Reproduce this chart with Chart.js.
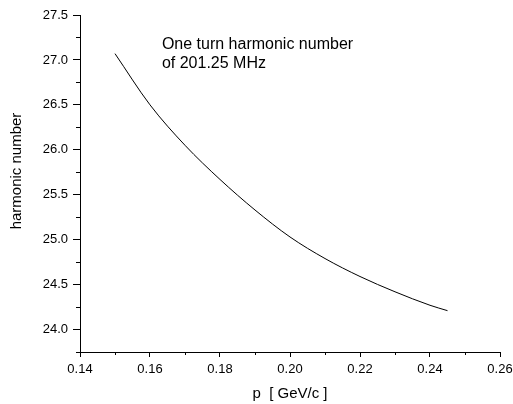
<!DOCTYPE html>
<html>
<head>
<meta charset="utf-8">
<script src="https://cdn.jsdelivr.net/npm/chart.js@4.4.1/dist/chart.umd.min.js"></script>
<style>
  body { margin: 0; background: #fff; }
  canvas { display: block; }
</style>
</head>
<body>
<canvas id="chart" width="513" height="404"></canvas>
<script>
// momentum p [GeV/c] and one-turn harmonic number
const momentum = [0.150, 0.160, 0.170, 0.180, 0.190, 0.200, 0.210, 0.220, 0.230, 0.240, 0.245];
const harmonic = [27.07, 26.50, 26.05, 25.67, 25.33, 25.03, 24.79, 24.59, 24.42, 24.27, 24.21];

const noteLines = ["One turn harmonic number", "of 201.25 MHz"];
const xTitle = "p  [ GeV/c ]";
const yTitle = "harmonic number";

const FONT = "'Liberation Sans', Arial, sans-serif";

function isMajorX(v) { return Math.round(v * 100) % 2 === 0; }
function isMajorY(v) { return Math.round(v * 100) % 50 === 0; }

// short minor ticks, annotation and y title
const extras = {
  id: "extras",
  afterDraw(chart) {
    const ctx = chart.ctx;
    const xs = chart.scales.x, ys = chart.scales.y;
    ctx.save();
    ctx.strokeStyle = "#000";
    ctx.lineWidth = 1;
    ctx.beginPath();
    xs.ticks.forEach(t => {
      if (isMajorX(t.value)) return;
      const px = Math.round(xs.getPixelForValue(t.value)) + 0.5;
      ctx.moveTo(px, xs.top);
      ctx.lineTo(px, xs.top + 3);
    });
    ys.ticks.forEach(t => {
      if (isMajorY(t.value)) return;
      const py = Math.round(ys.getPixelForValue(t.value)) + 0.5;
      ctx.moveTo(ys.right, py);
      ctx.lineTo(ys.right - 4, py);
    });
    ctx.stroke();

    ctx.fillStyle = "#000";
    ctx.font = "16px " + FONT;
    ctx.textBaseline = "middle";
    ctx.textAlign = "left";
    const nx = xs.getPixelForValue(0.1634);
    ctx.fillText(noteLines[0], nx, ys.getPixelForValue(27.167));
    ctx.fillText(noteLines[1], nx, ys.getPixelForValue(26.956));

    ctx.font = "15px " + FONT;
    ctx.textAlign = "center";
    ctx.translate(17, 171);
    ctx.rotate(-Math.PI / 2);
    ctx.fillText(yTitle, 0, 0);
    ctx.restore();
  }
};

new Chart(document.getElementById("chart"), {
  type: "line",
  data: {
    labels: momentum,
    datasets: [{
      data: momentum.map((p, i) => ({ x: p, y: harmonic[i] })),
      borderColor: "#000",
      borderWidth: 1,
      pointRadius: 0,
      fill: false,
      cubicInterpolationMode: "monotone"
    }]
  },
  options: {
    responsive: false,
    animation: false,
    layout: { padding: { top: 15, right: 13, left: 0, bottom: 0 } },
    plugins: { legend: { display: false }, tooltip: { enabled: false } },
    scales: {
      x: {
        type: "linear",
        min: 0.14,
        max: 0.26,
        afterFit(s) { s.height = 52; s.paddingRight = 0; },
        border: { display: true, color: "#000", width: 1 },
        grid: {
          drawOnChartArea: false,
          drawTicks: true,
          tickLength: 5,
          tickColor: c => (c.tick && isMajorX(c.tick.value)) ? "#000" : "rgba(0,0,0,0)"
        },
        ticks: {
          stepSize: 0.01,
          autoSkip: false,
          maxRotation: 0,
          padding: 5,
          color: "#000",
          font: { family: FONT, size: 13 },
          callback: v => isMajorX(v) ? v.toFixed(2) : ""
        },
        title: {
          display: true,
          text: xTitle,
          color: "#000",
          font: { family: FONT, size: 15 },
          padding: { top: 2, bottom: 1 }
        }
      },
      y: {
        type: "linear",
        min: 23.75,
        max: 27.5,
        afterFit(s) { s.width = 80; },
        border: { display: true, color: "#000", width: 1 },
        grid: {
          drawOnChartArea: false,
          drawTicks: true,
          tickLength: 7,
          tickColor: c => (c.tick && isMajorY(c.tick.value)) ? "#000" : "rgba(0,0,0,0)"
        },
        ticks: {
          stepSize: 0.25,
          autoSkip: false,
          padding: 5,
          color: "#000",
          font: { family: FONT, size: 13 },
          callback: v => isMajorY(v) ? v.toFixed(1) : ""
        }
      }
    }
  },
  plugins: [extras]
});
</script>
</body>
</html>
